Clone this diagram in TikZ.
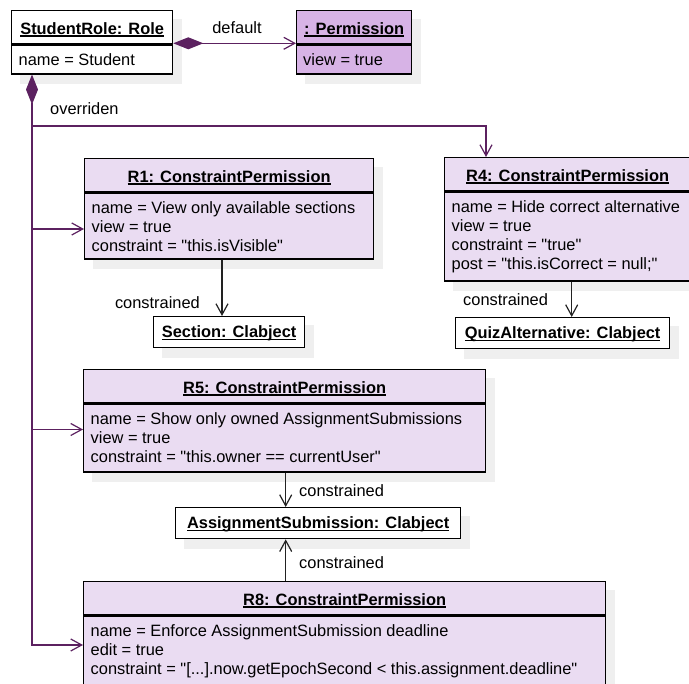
\documentclass[tikz,border=0pt]{standalone}
\usepackage{fontspec}
\setmainfont{Liberation Sans}[Ligatures=TeXOff]
\usetikzlibrary{arrows.meta,backgrounds}

\definecolor{permfill}{HTML}{D7B3E6}
\definecolor{rulefill}{HTML}{EADCF2}
\definecolor{ovrline}{HTML}{5C2160}
\definecolor{shadowgray}{HTML}{EFEFEF}
\definecolor{conline}{HTML}{222222}

% bold, underlined object name with the rule just under the baseline
\newcommand\objname[1]{\setbox0\hbox{\bfseries #1}\rlap{\rule[-2.4pt]{\wd0}{1.3pt}}\box0}
% fixes the top of an attribute block 14pt above its first baseline
\newcommand\attrstrut{\rule{0pt}{14pt}}

\begin{document}
\begin{tikzpicture}[x=1pt,y=-1pt,
  every node/.style={font=\fontsize{16.4}{19}\selectfont, inner sep=0pt},
  ttl/.style={draw=black, line width=1.3pt, anchor=north west, minimum height=33pt, text height=14pt, text depth=0pt},
  bdy/.style={draw=black, line width=1.3pt, anchor=north west},
  single/.style={draw=black, line width=1.3pt, fill=white, anchor=north west, minimum height=31pt, text height=11.6pt, text depth=0pt},
  attrs/.style={anchor=north west, align=left},
  lbl/.style={anchor=base west},
  ovr/.style={draw=ovrline, line width=1.2pt},
  barb/.style={-{Straight Barb[length=11pt,width=12pt]}},
  diam/.style={{Diamond[length=30pt,width=12pt]}-{Straight Barb[length=11pt,width=12pt]}},
  cons/.style={draw=conline, line width=1.2pt, -{Straight Barb[length=11pt,width=12pt]}},
]
\useasboundingbox (0,0) rectangle (689,684);

% role object
\node[ttl, fill=white, minimum width=161pt] (sr) at (11,10) {\objname{StudentRole: Role}};
\node[bdy, fill=white, minimum width=161pt, minimum height=29pt] (srb) at (sr.south west) {};
\node[attrs] (srt) at ([shift={(7.5pt,-7pt)}]srb.north west) {\attrstrut name = Student};

% default permission
\node[ttl, fill=permfill, minimum width=115pt] (perm) at (296,10) {\objname{: Permission}};
\node[bdy, fill=permfill, minimum width=115pt, minimum height=29pt] (permb) at (perm.south west) {};
\node[attrs] (permt) at ([shift={(7pt,-7pt)}]permb.north west) {\attrstrut view = true};

% constraint permissions
\node[ttl, fill=rulefill, minimum width=289pt] (r1) at (84,158) {\objname{R1: ConstraintPermission}};
\node[bdy, fill=rulefill, minimum width=289pt, minimum height=66pt] (r1b) at (r1.south west) {};
\node[attrs] (r1t) at ([shift={(7.5pt,-7pt)}]r1b.north west)
  {\attrstrut name = View only available sections\\view = true\\constraint = "this.isVisible"};

\node[ttl, fill=rulefill, minimum width=246pt] (r4) at (444,157) {\objname{R4: ConstraintPermission}};
\node[bdy, fill=rulefill, minimum width=246pt, minimum height=89pt] (r4b) at (r4.south west) {};
\node[attrs] (r4t) at ([shift={(7.5pt,-7pt)}]r4b.north west)
  {\attrstrut name = Hide correct alternative\\view = true\\constraint = "true"\\post = "this.isCorrect = null;"};

\node[ttl, fill=rulefill, minimum width=402pt] (r5) at (83,369) {\objname{R5: ConstraintPermission}};
\node[bdy, fill=rulefill, minimum width=402pt, minimum height=68pt] (r5b) at (r5.south west) {};
\node[attrs] (r5t) at ([shift={(7.5pt,-7pt)}]r5b.north west)
  {\attrstrut name = Show only owned AssignmentSubmissions\\view = true\\constraint = "this.owner == currentUser"};

\node[ttl, fill=rulefill, minimum width=522pt] (r8) at (83,581) {\objname{R8: ConstraintPermission}};
\node[bdy, fill=rulefill, minimum width=522pt, minimum height=69pt] (r8b) at (r8.south west) {};
\node[attrs] (r8t) at ([shift={(7.5pt,-7pt)}]r8b.north west)
  {\attrstrut name = Enforce AssignmentSubmission deadline\\edit = true\\constraint = "[...].now.getEpochSecond < this.assignment.deadline"};

% clabjects
\node[single, minimum width=151pt] (sec) at (153,316) {\objname{Section: Clabject}};
\node[single, minimum width=214pt] (quiz) at (455,317) {\objname{QuizAlternative: Clabject}};
\node[single, minimum width=285pt] (as) at (175,507) {\objname{AssignmentSubmission: Clabject}};

% default composition
\draw[ovr, diam] ([yshift=1pt]srb.north east) -- ([yshift=1pt]permb.north west);
\node[anchor=base] (deflbl) at (237,33.3) {default};

% overriden composition: trunk with branches
\coordinate (trunk) at ([xshift=21pt]srb.south west);
\draw[ovr, diam] (trunk) |- ([yshift=-29.7pt]r8b.north west);
\coordinate (j4) at (trunk |- 0,126);
\coordinate (j1) at (trunk |- 0,229);
\coordinate (j5) at (trunk |- 0,429.5);
\draw[ovr, barb] (j4) -| ([xshift=42pt]r4.north west);
\draw[ovr, barb] (j1) -- (j1 -| r1b.west);
\draw[ovr, barb] (j5) -- (j5 -| r5b.west);
\node[lbl] (ovrlbl) at (50,115) {overriden};

% constrained links
\draw[cons] ([xshift=138pt]r1b.south west) -- ([xshift=69pt]sec.north west);
\node[anchor=base east] (c1) at (200,308.3) {constrained};
\draw[cons] ([xshift=127.7pt]r4b.south west) -- ([xshift=116.7pt]quiz.north west);
\node[lbl] (c4) at (463,306) {constrained};
\draw[cons] ([xshift=202.7pt]r5b.south west) -- ([xshift=110.7pt]as.north west);
\node[lbl] (c5) at (299,497) {constrained};
\draw[cons] ([xshift=202.7pt]r8.north west) -- ([xshift=110.7pt]as.south west);
\node[lbl] (c8) at (299,568.3) {constrained};

% drop shadows
\begin{pgfonlayer}{background}
  \foreach \t/\b in {sr/srb, perm/permb, r1/r1b, r4/r4b, r5/r5b, r8/r8b, sec/sec, quiz/quiz, as/as}
    \fill[shadowgray] ([shift={(9pt,-9.5pt)}]\t.north west) rectangle ([shift={(9pt,-9.5pt)}]\b.south east);
\end{pgfonlayer}
\end{tikzpicture}
\end{document}
